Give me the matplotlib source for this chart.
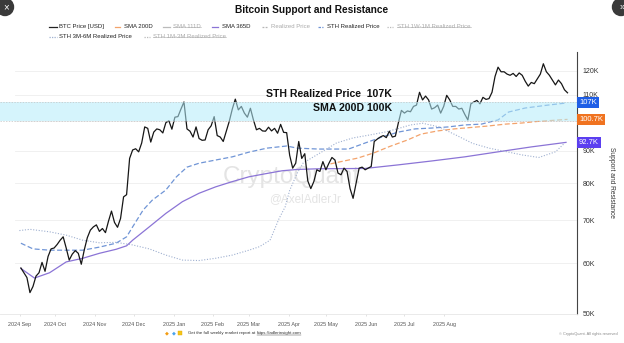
import numpy as np
import pandas as pd
import matplotlib
matplotlib.use("Agg")
import matplotlib.pyplot as plt
from matplotlib.lines import Line2D
from matplotlib.patches import Circle
from matplotlib.ticker import NullLocator
import matplotlib.transforms as mtransforms

plt.rcParams['font.family'] = ['Liberation Sans', 'DejaVu Sans']

# BTC price [USD, thousands], one value every 2 days from 2024-08-31
price = [59.0, 58.0, 57.0, 54.0, 55.2, 57.3, 58.0, 60.2, 58.3, 61.5, 63.2, 63.4, 64.2, 65.2, 66.0, 63.4,
         60.7, 62.0, 62.8, 62.2, 59.8, 63.0, 65.8, 67.6, 68.4, 68.9, 67.3, 68.0, 67.0, 69.8, 72.4,
         69.5, 68.3, 70.5, 76.2, 76.8, 87.5, 90.2, 90.6, 89.6, 92.5, 98.0, 97.5, 92.8, 96.2, 97.3,
         97.0, 95.9, 99.5, 100.2, 97.2, 101.5, 101.7, 104.5, 107.2, 97.3, 96.5, 94.5, 98.0, 94.0, 93.4, 93.5,
         97.0, 98.4, 101.7, 95.0, 94.5, 93.0, 96.5, 100.0, 104.5, 108.3, 104.2, 105.5, 103.0, 101.5, 104.8,
         100.5, 97.0, 97.5, 96.6, 96.5, 97.9, 96.6, 97.5, 95.8, 98.9, 96.1, 96.0, 88.5, 84.5,
         86.0, 93.0, 87.5, 89.0, 80.7, 78.5, 80.5, 84.0, 83.5, 86.5, 84.0, 86.0, 87.8, 87.0, 83.0, 82.5,
         84.5, 83.5, 78.5, 75.8, 80.0, 84.5, 84.8, 84.0, 84.5, 85.0, 93.0, 93.8, 94.5, 95.0, 94.3,
         96.5, 94.5, 94.8, 99.5, 104.0, 103.0, 103.8, 103.5, 105.5, 106.0, 111.0, 108.0, 109.5, 108.0, 104.5,
         105.0, 106.0, 103.0, 105.5, 109.8, 108.0, 105.5, 105.5, 104.5, 104.8, 102.5, 100.5, 106.5, 107.2, 107.8,
         106.5, 109.0, 108.2, 108.5, 111.0, 117.5, 121.5, 119.5, 119.5, 118.5, 118.0, 118.8, 117.5, 119.0, 118.0, 115.5,
         113.5, 115.0, 114.5, 116.5, 118.5, 123.0, 119.5, 118.0, 116.0, 114.0, 116.0, 114.5, 112.0, 110.8]
price_dates = pd.date_range("2024-08-31", periods=len(price), freq="2D")

sth_dates = pd.to_datetime([
    "2024-08-31", "2024-09-08", "2024-09-19", "2024-10-11", "2024-10-22", "2024-11-02", "2024-11-09",
    "2024-11-13", "2024-11-20", "2024-11-26", "2024-12-05", "2024-12-12", "2024-12-19", "2024-12-27",
    "2025-01-07", "2025-01-18", "2025-01-29", "2025-02-10", "2025-02-23", "2025-03-02", "2025-03-16",
    "2025-04-05", "2025-04-16", "2025-04-27", "2025-05-08", "2025-05-19", "2025-05-30", "2025-06-10",
    "2025-06-21", "2025-07-02", "2025-07-13", "2025-07-20", "2025-07-31", "2025-08-15", "2025-08-27"])
sth_realized = [64.5, 63.2, 62.9, 62.9, 63.6, 64.5, 66.0, 68.4, 72.7, 75.3, 78.1, 81.9, 84.8, 86.0,
                87.0, 88.0, 89.5, 90.8, 91.5, 90.8, 90.5, 90.5, 92.5, 94.5, 96.2, 97.3, 97.6, 98.0,
                98.7, 99.0, 100.5, 103.4, 104.9, 106.0, 106.8]

sma200_dates = pd.to_datetime([
    "2025-03-24", "2025-04-01", "2025-04-11", "2025-04-22", "2025-05-02", "2025-05-14", "2025-05-23",
    "2025-06-03", "2025-06-14", "2025-06-25", "2025-07-06", "2025-07-18", "2025-07-29", "2025-08-09",
    "2025-08-20", "2025-08-28"])
sma200 = [85.8, 86.6, 87.6, 89.3, 91.3, 93.5, 95.5, 96.6, 97.3, 97.8, 98.3, 99.0, 99.4, 100.0, 100.4, 100.7]

sma365_dates = pd.to_datetime([
    "2024-08-31", "2024-09-09", "2024-09-19", "2024-09-30", "2024-10-11", "2024-10-22", "2024-11-02",
    "2024-11-09", "2024-11-13", "2024-11-24", "2024-12-05", "2024-12-16", "2024-12-27", "2025-01-07",
    "2025-01-18", "2025-01-29", "2025-02-10", "2025-02-20", "2025-03-02", "2025-03-16", "2025-04-16",
    "2025-05-08", "2025-05-30", "2025-06-21", "2025-07-13", "2025-08-04", "2025-08-27"])
sma365 = [58.9, 56.9, 58.0, 60.3, 61.1, 62.2, 63.1, 63.9, 65.2, 68.4, 71.8, 74.9, 77.2, 79.0,
          80.5, 81.9, 82.9, 83.7, 84.1, 84.3, 84.4, 85.5, 86.7, 88.0, 89.6, 91.2, 92.7]

sth36_dates = pd.to_datetime([
    "2024-08-30", "2024-09-06", "2024-09-19", "2024-09-30", "2024-10-11", "2024-10-22", "2024-11-02",
    "2024-11-13", "2024-11-24", "2024-12-05", "2024-12-16", "2024-12-27", "2025-01-07", "2025-01-18",
    "2025-01-29", "2025-02-05", "2025-02-12", "2025-02-18", "2025-02-22", "2025-02-25", "2025-03-02",
    "2025-03-06", "2025-03-17", "2025-03-28", "2025-04-08", "2025-04-19", "2025-04-30", "2025-05-09",
    "2025-05-16", "2025-05-24", "2025-06-04", "2025-06-15", "2025-06-26", "2025-07-07", "2025-07-19",
    "2025-07-29", "2025-08-09", "2025-08-20", "2025-08-26"])
sth_3m6m = [67.5, 67.8, 67.2, 66.4, 65.2, 64.6, 64.7, 64.1, 63.2, 61.8, 60.7, 60.6, 61.1, 61.8,
            62.9, 63.7, 65.2, 70.5, 73.5, 78.0, 83.0, 86.1, 89.2, 92.5, 94.2, 95.2, 96.3, 97.6,
            98.7, 99.3, 98.0, 95.2, 92.4, 90.8, 89.6, 88.6, 87.8, 89.6, 92.4]

band_low, band_high = 100.0, 107.0
y_ticks = [50, 60, 70, 80, 90, 100, 110, 120]
month_labels = ["2024 Sep", "2024 Oct", "2024 Nov", "2024 Dec", "2025 Jan", "2025 Feb",
                "2025 Mar", "2025 Apr", "2025 May", "2025 Jun", "2025 Jul", "2025 Aug"]
value_tags = [("107K", 107.0, "#1f5ee6"), ("100.7K", 100.7, "#f07320"), ("92.7K", 92.7, "#5b3ff0")]

W, H = 624, 343
BASE = pd.Timestamp("2024-09-01")


def px_to_date(px):
    # screen x (pixels) -> date on the time axis
    return BASE + pd.Timedelta(days=(px - 22.4) / 1.51)


def fx(px):
    return px / W


def fy(py):
    return 1 - py / H


fig = plt.figure(figsize=(W / 100, H / 100), dpi=100)
ax = fig.add_axes([0, fy(314), fx(577), (314 - 52) / H])

k = 1000
ax.plot(price_dates, np.array(price) * k, color="#161616", lw=0.9, zorder=4)
ax.plot(sth_dates, np.array(sth_realized) * k, color="#7095d6", lw=0.9, ls=(0, (4, 2)), zorder=3)
ax.plot(sma200_dates, np.array(sma200) * k, color="#f3a36c", lw=0.9, ls=(0, (4, 2)), zorder=3)
ax.plot(sma365_dates, np.array(sma365) * k, color="#8b74d6", lw=0.9, zorder=3)
ax.plot(sth36_dates, np.array(sth_3m6m) * k, color="#9fb0d0", lw=0.8, ls=(0, (1, 1.5)), zorder=3)

ax.axhspan(band_low * k, band_high * k, color="#b3ecfa", alpha=0.55, lw=0, zorder=5)
for v in (band_low, band_high):
    ax.axhline(v * k, color="#c4c4c4", lw=0.5, ls=(0, (2, 2)), zorder=5)

for v in y_ticks:
    ax.axhline(v * k, xmin=15 / 577, color="#eeeeee", lw=0.6, zorder=0)

ax.set_yscale("log")
ax.set_ylim(50000, 50000 * np.exp(262 / 278))
ax.set_xlim(px_to_date(0), px_to_date(577))
ax.yaxis.tick_right()
ax.set_yticks([v * k for v in y_ticks])
# the 100K label sits fully under the 100.7K tag in the reference
ax.set_yticklabels(["" if v == 100 else f"{v}K" for v in y_ticks])
ax.yaxis.set_minor_locator(NullLocator())
ax.tick_params(axis="y", length=0, pad=4, labelsize=5, labelcolor="#333333")

label_px = [20, 55.5, 94.7, 134, 173.7, 212.7, 248.7, 288.7, 326.3, 365.8, 404.3, 444.3]
ax.set_xticks([px_to_date(p) for p in label_px])
ax.set_xticklabels(month_labels)
ax.tick_params(axis="x", length=1.5, width=0.4, color="#cccccc", pad=4, labelsize=3.9, labelcolor="#555555")

for s in ("top", "left"):
    ax.spines[s].set_visible(False)
ax.spines["right"].set_color("#444444")
ax.spines["right"].set_linewidth(0.8)
ax.spines["bottom"].set_color("#e6e6e6")
ax.spines["bottom"].set_linewidth(0.6)

blend = mtransforms.blended_transform_factory(ax.transAxes, ax.transData)
for txt, v, c in value_tags:
    ax.text(1.0 + 2 / 577, v * k, txt, transform=blend, ha="left", va="center", color="white",
            fontsize=5.5, clip_on=False, zorder=10,
            bbox=dict(boxstyle="square,pad=0.3", fc=c, ec="none"))

# watermark
ax.text(291 / 577, (314 - 177) / 262, "CryptoQuant", transform=ax.transAxes, ha="center", va="center",
        fontsize=17.5, color="#e4e4e4", zorder=1)
ax.text(305 / 577, (314 - 199) / 262, "@AxelAdlerJr", transform=ax.transAxes, ha="center", va="center",
        fontsize=8.5, color="#e4e4e4", zorder=1)

# annotations
ax.text(392 / 577, (314 - 94) / 262, "STH Realized Price  107K", transform=ax.transAxes, ha="right",
        va="center", fontsize=7.6, fontweight="bold", color="#111111", zorder=8)
ax.text(392 / 577, (314 - 108) / 262, "SMA 200D 100K", transform=ax.transAxes, ha="right",
        va="center", fontsize=7.6, fontweight="bold", color="#111111", zorder=8)

fig.text(fx(312), fy(10), "Bitcoin Support and Resistance", ha="center", va="center",
         fontsize=7.3, fontweight="bold", color="#111111")
fig.text(fx(612), fy(182), "Support and Resistance", rotation=270, ha="center", va="center",
         fontsize=4.8, color="#333333")

# legend
legend_items = [
    (49, 57, 59, 26.7, "BTC Price [USD]", "#222222", "-", False, False),
    (115, 120, 124, 26.7, "SMA 200D", "#f3a36c", "-", False, False),
    (163, 170, 173, 26.7, "SMA 111D", "#bbbbbb", "-", True, True),
    (212, 218, 222, 26.7, "SMA 365D", "#8b74d6", "-", False, False),
    (262, 268, 271, 26.7, "Realized Price", "#b5b5b5", (0, (1.5, 1)), True, False),
    (318, 323, 327, 26.7, "STH Realized Price", "#7095d6", (0, (2, 1)), False, False),
    (387, 393, 397, 26.7, "STH 1W-1M Realized Price", "#bbbbbb", (0, (1, 1)), True, True),
    (49, 57, 59, 36.7, "STH 3M-6M Realized Price", "#9fb0d0", (0, (1, 1)), False, False),
    (144, 150, 153, 36.7, "STH 1M-3M Realized Price", "#bbbbbb", (0, (1, 1)), True, True),
]
fig.canvas.draw()
renderer = fig.canvas.get_renderer()
for x0, x1, xt, y, label, col, ls, hidden, strike in legend_items:
    fig.add_artist(Line2D([fx(x0), fx(x1)], [fy(y), fy(y)], color=col, lw=0.9, ls=ls))
    t = fig.text(fx(xt), fy(y), label, ha="left", va="center", fontsize=4.3,
                 color="#aaaaaa" if hidden else "#222222")
    if strike:
        bb = t.get_window_extent(renderer)
        fig.add_artist(Line2D([bb.x0 / W, bb.x1 / W], [fy(y), fy(y)], color="#aaaaaa", lw=0.4))

# footer (emoji: two diamonds and a small yellow mark for the raised hands, no font has that glyph)
fy_foot = fy(333)
fig.text(fx(167), fy_foot, "\u25c6", color="#f39c12", fontsize=3.6, ha="center", va="center")
fig.text(fx(173.5), fy_foot, "\u25c6", color="#4aa3ef", fontsize=3.6, ha="center", va="center")
fig.add_artist(Line2D([fx(180)], [fy_foot], marker="s", ms=2.6, color="#f5c518", mec="#e0a800", mew=0.3))
t1 = fig.text(fx(188), fy_foot, "Get the full weekly market report at ", ha="left", va="center",
              fontsize=3.2, color="#333333")
bb = t1.get_window_extent(renderer)
t2 = fig.text(bb.x1 / W, fy_foot, "https://adlerinsight.com", ha="left", va="center",
              fontsize=3.2, color="#333333")
bb2 = t2.get_window_extent(renderer)
fig.add_artist(Line2D([bb2.x0 / W, bb2.x1 / W], [bb2.y0 / H, bb2.y0 / H], color="#333333", lw=0.3))
fig.text(fx(618), fy(334), "\u00a9 CryptoQuant. All rights reserved", ha="right", va="center",
         fontsize=2.8, color="#888888")

# screenshot corner buttons
for cx, sym in ((5, "\u00d7"), (621, "\u00bb")):
    fig.add_artist(Circle((cx / 100, (H - 7) / 100), 0.085, transform=fig.dpi_scale_trans,
                          color="#3a3a3a", zorder=20))
    fig.text(fx(cx + 1), fy(7), sym, color="white", fontsize=7, ha="center", va="center", zorder=21)

fig.savefig("out.png", dpi=100)
